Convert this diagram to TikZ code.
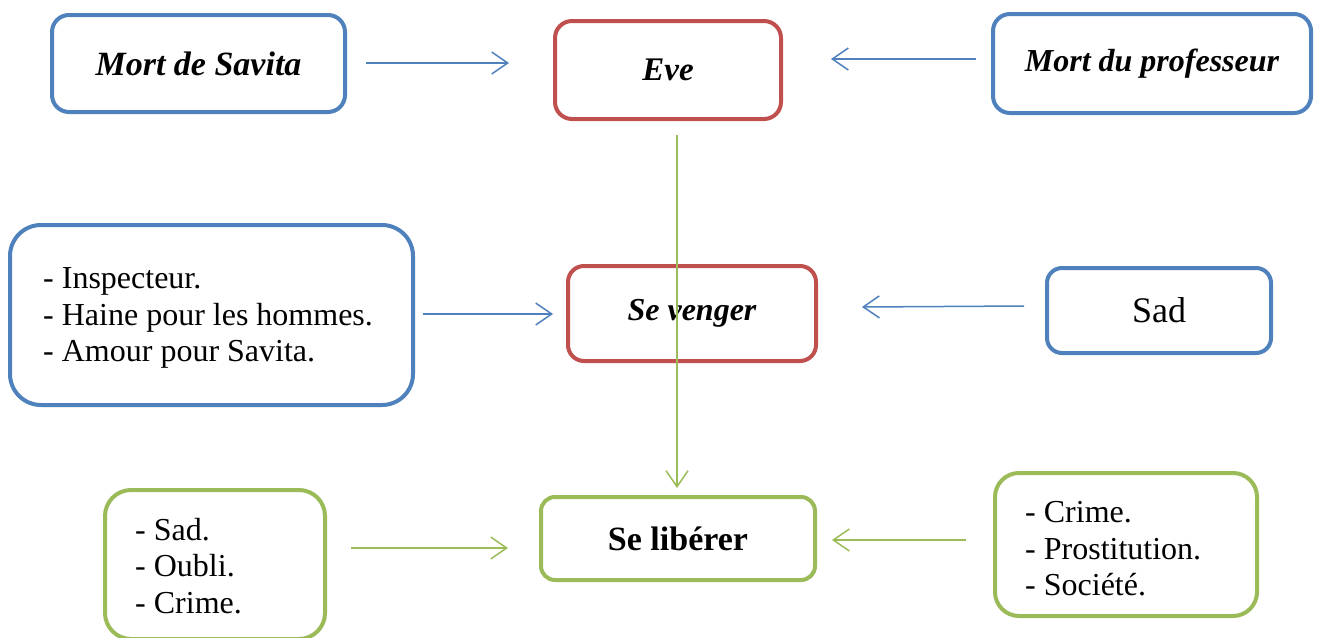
\documentclass[tikz,border=0pt]{standalone}
\usepackage{fontspec}
\setmainfont{Liberation Serif}
\usetikzlibrary{arrows.meta}
\definecolor{oblue}{HTML}{4F81BD}
\definecolor{ored}{HTML}{C0504D}
\definecolor{ogreen}{HTML}{9BBB59}
\tikzset{
  rbox/.style={draw, line width=4pt, rounded corners=#1, inner sep=0pt, fill=white,
    font=\fontsize{32}{37}\selectfont},
  listtext/.style={anchor=west, inner sep=0pt, align=left,
    font=\fontsize{32}{36.5}\selectfont},
  conn/.style={line width=1.5pt, -{Straight Barb[length=16pt,width=22pt,line width=1.5pt]}},
}
\begin{document}
\begin{tikzpicture}[x=1pt,y=-1pt]
\useasboundingbox[fill=white] (0,0) rectangle (1319,637);
% boxes
\node[rbox=17pt, draw=oblue, minimum width=293pt, minimum height=97pt,
  font=\bfseries\itshape\fontsize{34}{40}\selectfont] (savita) at (198.5,63.5) {Mort de Savita};
\node[rbox=17pt, draw=ored, minimum width=226pt, minimum height=98pt,
  font=\bfseries\itshape\fontsize{33}{40}\selectfont] (eve) at (668,70) {Eve};
\node[rbox=17pt, draw=oblue, minimum width=318pt, minimum height=99pt,
  font=\bfseries\itshape\fontsize{32}{40}\selectfont] (prof) at (1152,63.5) {Mort du professeur};
\node[rbox=31pt, draw=oblue, minimum width=403pt, minimum height=180pt] (motifs) at (211.5,315) {};
\node[listtext] (motifs-t) at (43,318)
  {- Inspecteur.\\- Haine pour les hommes.\\- Amour pour Savita.};
\node[rbox=16pt, draw=ored, minimum width=248pt, minimum height=95pt,
  font=\bfseries\itshape\fontsize{32}{40}\selectfont] (venger) at (692,313.5) {Se venger};
\node[rbox=15pt, draw=oblue, minimum width=224pt, minimum height=85pt,
  font=\fontsize{36}{40}\selectfont] (sad) at (1159,310.5) {Sad};
\node[rbox=26pt, draw=ogreen, minimum width=220pt, minimum height=149pt] (oubli) at (215,564.5) {};
\node[listtext] (oubli-t) at (135,566)
  {- Sad.\\- Oubli.\\- Crime.};
\node[rbox=14pt, draw=ogreen, minimum width=274pt, minimum height=83pt,
  font=\bfseries\fontsize{34}{40}\selectfont] (liberer) at (678,538.5) {Se libérer};
\node[rbox=24pt, draw=ogreen, minimum width=262pt, minimum height=143pt] (crime) at (1126,544.5) {};
\node[listtext] (crime-t) at (1025,549)
  {- Crime.\\- Prostitution.\\- Société.};
% connector ends
\coordinate (a1s) at (366,63);   \coordinate (a1e) at (509,63);
\coordinate (a2s) at (976,59);   \coordinate (a2e) at (831,59);
\coordinate (vs) at (677,135);   \coordinate (ve) at (677,488);
\coordinate (a3s) at (423,314);  \coordinate (a3e) at (553,314);
\coordinate (a4s) at (1024,306); \coordinate (a4e) at (862,307);
\coordinate (a5s) at (351,548);  \coordinate (a5e) at (508,548);
\coordinate (a6s) at (966,540);  \coordinate (a6e) at (832,540);
% connectors
\draw[conn, oblue] (a1s) -- (a1e);
\draw[conn, oblue] (a2s) -- (a2e);
\draw[conn, ogreen] (vs) -- (ve);
\draw[conn, oblue] (a3s) -- (a3e);
\draw[conn, oblue] (a4s) -- (a4e);
\draw[conn, ogreen] (a5s) -- (a5e);
\draw[conn, ogreen] (a6s) -- (a6e);
\end{tikzpicture}
\end{document}
